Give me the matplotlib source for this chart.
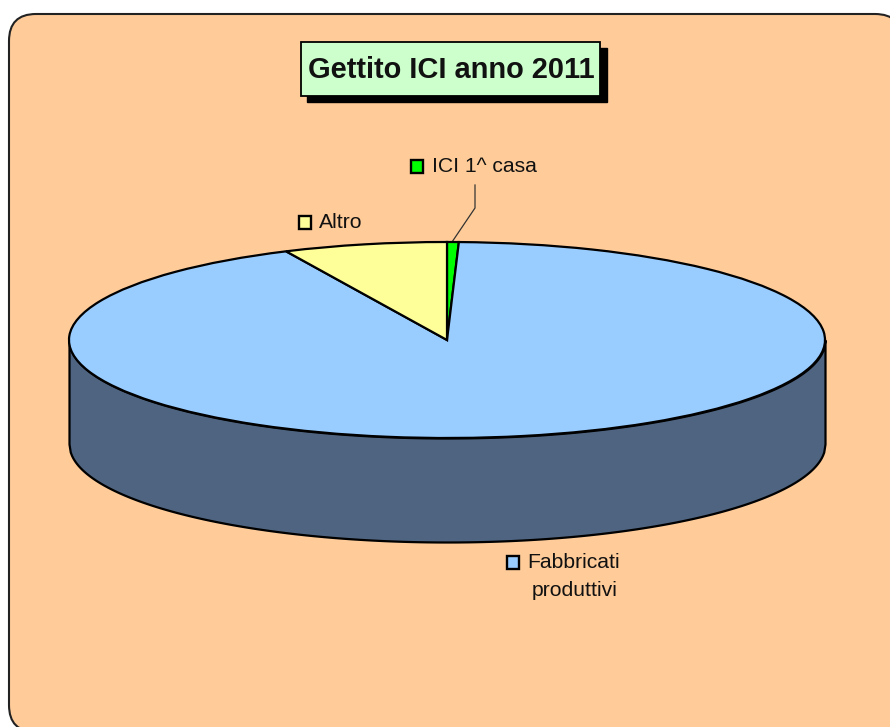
import numpy as np
from matplotlib import pyplot as plt
from matplotlib.patches import FancyBboxPatch, Rectangle

plt.rcParams['font.family'] = ['Liberation Sans', 'DejaVu Sans']

title = "Gettito ICI anno 2011"
labels = ["ICI 1^ casa", "Fabbricati", "Altro"]
values = [0.5, 92.5, 7.0]
colors = ["#00FF00", "#99CCFF", "#FFFF99"]

W, H = 890, 727
fig = plt.figure(figsize=(W / 100, H / 100), dpi=100, facecolor="white")

# sfondo, titolo e legende in coordinate pixel
bg = fig.add_axes([0, 0, 1, 1])
bg.set_xlim(0, W)
bg.set_ylim(H, 0)
bg.axis("off")

bg.add_patch(FancyBboxPatch((9, 14), 893, 718, boxstyle="round,pad=0,rounding_size=27",
                            facecolor="#FFCC99", edgecolor="#222222", linewidth=1.5))

# riquadro del titolo con ombra
bg.add_patch(Rectangle((307, 48), 300, 54, facecolor="black", edgecolor="black"))
bg.add_patch(Rectangle((301, 42), 299, 54, facecolor="#CCFFCC", edgecolor="black", linewidth=1.3))
bg.text(451.5, 70, title, fontsize=20.9, fontweight="bold", ha="center", va="center", color="#111111")

# etichette
label_xy = [(432, 166), (527, 562), (319, 222)]
key_xy = [(411, 160), (507, 556), (299, 216)]
for lab, col, (tx, ty), (kx, ky) in zip(labels, colors, label_xy, key_xy):
    bg.add_patch(Rectangle((kx, ky), 12, 13, facecolor=col, edgecolor="black", linewidth=1.7))
    bg.text(tx, ty, lab, fontsize=15.2, ha="left", va="center", color="#111111")

bg.text(532, 591, "produttivi", fontsize=15.2, ha="left", va="center", color="#111111")

# linea guida di ICI 1^ casa
bg.plot([475, 475, 452], [185, 208, 242], color="#333333", linewidth=0.9)

# torta: assi stirati per avere l'ellisse
left, right, top, bottom = 69, 825, 242, 438
ax = fig.add_axes([left / W, 1 - bottom / H, (right - left) / W, (bottom - top) / H])
ax.patch.set_alpha(0)

depth = 104 / ((bottom - top) / 2)
xs = np.linspace(-1, 1, 600)
edge = -np.sqrt(1 - xs ** 2)
ax.fill_between(xs, edge, edge - depth, facecolor="#4F6480", edgecolor="black",
                linewidth=1.6, clip_on=False)

ax.pie(values, colors=colors, startangle=90, counterclock=False, radius=1,
       wedgeprops=dict(edgecolor="black", linewidth=1.6, clip_on=False))
ax.set_aspect("auto")
ax.set_xlim(-1, 1)
ax.set_ylim(-1, 1)
ax.axis("off")

fig.savefig("out.png", dpi=100)
